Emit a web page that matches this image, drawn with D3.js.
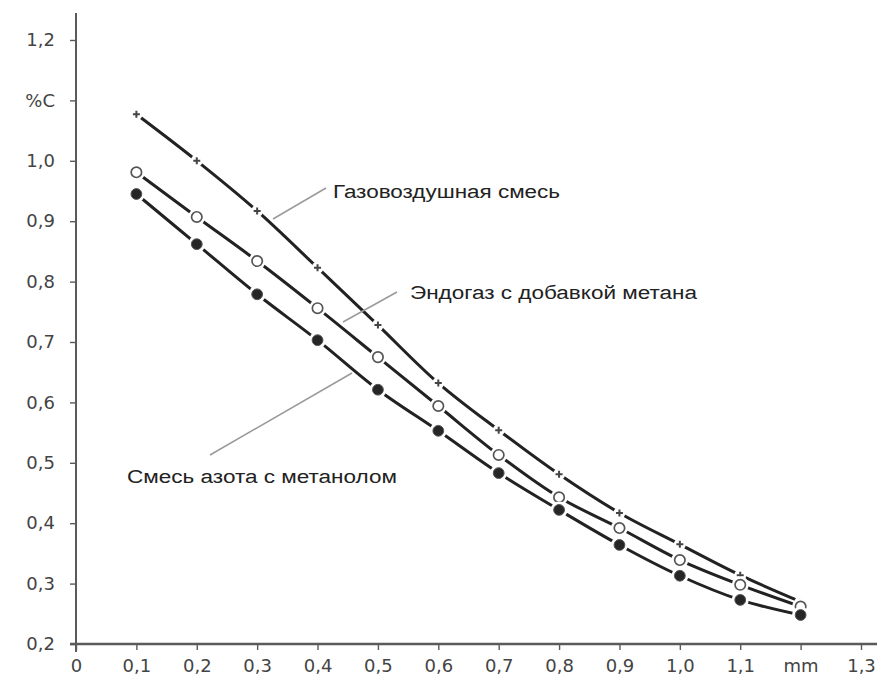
<!DOCTYPE html>
<html><head><meta charset="utf-8">
<script src="https://cdn.jsdelivr.net/npm/d3@7"></script>
<style>body{margin:0;background:#fff}svg{display:block}</style>
</head><body><svg id="c" width="877" height="683"></svg>
<script>
const xValues = [0.1,0.2,0.3,0.4,0.5,0.6,0.7,0.8,0.9,1.0,1.1,1.2];
const gasAir = [1.077,1.000,0.917,0.823,0.728,0.632,0.554,0.481,0.417,0.365,0.314,0.270];
const endogas = [0.981,0.907,0.834,0.756,0.675,0.594,0.513,0.443,0.392,0.339,0.298,0.262];
const nitrogenMethanol = [0.945,0.862,0.779,0.703,0.621,0.553,0.483,0.422,0.364,0.313,0.273,0.248];
const seriesNames = ["Газовоздушная смесь","Эндогаз с добавкой метана","Смесь азота с метанолом"];
const xTicks = [0,0.1,0.2,0.3,0.4,0.5,0.6,0.7,0.8,0.9,1.0,1.1,1.2,1.3];
const xTickLabels = ["0","0,1","0,2","0,3","0,4","0,5","0,6","0,7","0,8","0,9","1,0","1,1","mm","1,3"];
const yTicks = [0.2,0.3,0.4,0.5,0.6,0.7,0.8,0.9,1.0,1.1,1.2];
const yTickLabels = ["0,2","0,3","0,4","0,5","0,6","0,7","0,8","0,9","1,0","%C","1,2"];

const svg = d3.select("#c");
const x = d3.scaleLinear().domain([0,1.3]).range([76,861]);
const y = d3.scaleLinear().domain([0.2,1.2]).range([644,40]);
const axisColor = "#5a5a5a";
const font = "'DejaVu Sans',sans-serif";

// axes lines
svg.append("line").attr("x1",76).attr("x2",76).attr("y1",13).attr("y2",652)
  .attr("stroke",axisColor).attr("stroke-width",2);
svg.append("line").attr("x1",70).attr("x2",877).attr("y1",y(0.2)).attr("y2",y(0.2))
  .attr("stroke",axisColor).attr("stroke-width",2.4);

const xAxis = d3.axisBottom(x).tickValues(xTicks).tickSize(6).tickPadding(9)
  .tickFormat((d,i)=>xTickLabels[i]);
const gx = svg.append("g").attr("transform",`translate(0,${y(0.2)})`).call(xAxis);
gx.select(".domain").remove();
gx.selectAll(".tick line").attr("stroke",axisColor).attr("stroke-width",1.4);
gx.selectAll(".tick text").attr("fill","#444").style("font-family",font).style("font-size","18px");

const yAxis = d3.axisLeft(y).tickValues(yTicks).tickSize(6).tickPadding(15)
  .tickFormat((d,i)=>yTickLabels[i]);
const gy = svg.append("g").attr("transform","translate(76,0)").call(yAxis);
gy.select(".domain").remove();
gy.selectAll(".tick line").attr("stroke",axisColor).attr("stroke-width",1.4);
gy.selectAll(".tick text").attr("fill","#444").style("font-family",font).style("font-size","18px");

// curves
const line = d3.line().x(d=>x(d[0])).y(d=>y(d[1])).curve(d3.curveCatmullRom.alpha(0.5));
const series = [gasAir, endogas, nitrogenMethanol];
const markerTypes = ["plus","open","filled"];
series.forEach(vals=>{
  const pts = xValues.map((v,i)=>[v,vals[i]]);
  svg.append("path").datum(pts).attr("d",line).attr("fill","none")
    .attr("stroke","#222").attr("stroke-width",3);
});
// gaps + markers
series.forEach((vals,si)=>{
  const pts = xValues.map((v,i)=>[v,vals[i]]);
  const g = svg.append("g");
  g.selectAll("circle.gap").data(pts).join("circle").attr("class","gap")
    .attr("cx",d=>x(d[0])).attr("cy",d=>y(d[1]))
    .attr("r", markerTypes[si]==="plus"?6:8.5).attr("fill","#fff");
  if(markerTypes[si]==="plus"){
    g.selectAll("path.m").data(pts).join("path").attr("class","m")
      .attr("d",d=>{const cx=x(d[0]),cy=y(d[1]);return `M${cx-3.5},${cy}H${cx+3.5}M${cx},${cy-3.5}V${cy+3.5}`;})
      .attr("stroke","#444").attr("stroke-width",2);
  } else if(markerTypes[si]==="open"){
    g.selectAll("circle.m").data(pts).join("circle").attr("class","m")
      .attr("cx",d=>x(d[0])).attr("cy",d=>y(d[1])).attr("r",5.2)
      .attr("fill","#fff").attr("stroke","#555").attr("stroke-width",1.7);
  } else {
    g.selectAll("circle.m").data(pts).join("circle").attr("class","m")
      .attr("cx",d=>x(d[0])).attr("cy",d=>y(d[1])).attr("r",5.4)
      .attr("fill","#262626").attr("stroke","#555").attr("stroke-width",1);
  }
});

// annotations
const ann = [
  {text:seriesNames[0], tx:333, ty:198, w:227, lx1:273, ly1:219, lx2:326, ly2:188},
  {text:seriesNames[1], tx:410, ty:299, w:287, lx1:343, ly1:322, lx2:397, ly2:292},
  {text:seriesNames[2], tx:127, ty:483, w:270, lx1:210, ly1:455, lx2:352, ly2:373}
];
ann.forEach(a=>{
  svg.append("line").attr("x1",a.lx1).attr("y1",a.ly1).attr("x2",a.lx2).attr("y2",a.ly2)
    .attr("stroke","#9a9a9a").attr("stroke-width",1.5);
  svg.append("text").attr("x",a.tx).attr("y",a.ty).text(a.text)
    .attr("font-family","'Liberation Sans',Arial,sans-serif").attr("font-size",18)
    .attr("fill","#222").attr("textLength",a.w).attr("lengthAdjust","spacingAndGlyphs");
});
</script></body></html>
